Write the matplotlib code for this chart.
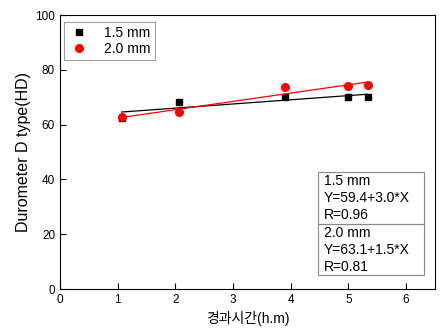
import numpy as np
import matplotlib
matplotlib.use('Agg')
import matplotlib.pyplot as plt
from matplotlib.patches import Rectangle

plt.rcParams['font.family'] = ['Liberation Sans', 'Noto Sans CJK KR', 'DejaVu Sans']

# elapsed time (h.m) and durometer readings
t = [1.07, 2.06, 3.9, 5.0, 5.33]
hd_15 = [62.5, 68.4, 70.0, 70.2, 70.2]
hd_20 = [62.7, 64.5, 73.6, 74.2, 74.5]
labels = ['1.5 mm', '2.0 mm']
fit_text = ['1.5 mm\nY=59.4+3.0*X\nR=0.96', '2.0 mm\nY=63.1+1.5*X\nR=0.81']

fig = plt.figure(figsize=(4.43, 3.30), dpi=100)
ax = fig.add_axes([0.1354, 0.1242, 0.8466, 0.8303])

tt = np.array(t)
for y, c, m, ms, lab in [(hd_15, 'black', 's', 5, labels[0]), (hd_20, 'red', 'o', 5.5, labels[1])]:
    ax.plot(t, y, ls='none', marker=m, color=c, ms=ms, label=lab)
    p = np.polyfit(tt, y, 1)
    ax.plot(tt[[0, -1]], np.polyval(p, tt[[0, -1]]), color=c, lw=0.9)

ax.set_xlim(0, 6.5)
ax.set_ylim(0, 100)
ax.set_xticks(range(0, 7))
ax.set_yticks(range(0, 101, 20))
ax.tick_params(direction='in', length=4, labelsize=8.5, top=False, right=False)
ax.set_xlabel('경과시간(h.m)', fontsize=10)
ax.set_ylabel('Durometer D type(HD)', fontsize=11.5, labelpad=3)

leg = ax.legend(loc='upper left', fontsize=10, fancybox=False, edgecolor='#888888',
                handletextpad=1.0, borderpad=0.3, labelspacing=0.15, handlelength=1.6,
                borderaxespad=0, bbox_to_anchor=(0.011, 0.975))
leg.get_frame().set_linewidth(0.8)

# fit result box
x0, x1 = 0.688, 0.971
ys = [(0.237, 0.427), (0.051, 0.237)]
for (yb, yt), txt in zip(ys, fit_text):
    ax.add_patch(Rectangle((x0, yb), x1 - x0, yt - yb, transform=ax.transAxes,
                           fill=False, edgecolor='#888888', lw=0.8))
    ax.text(x0 + 0.015, yt - 0.008, txt, transform=ax.transAxes, fontsize=10,
            va='top', ha='left', linespacing=1.25)

fig.savefig('out.png', dpi=100)
